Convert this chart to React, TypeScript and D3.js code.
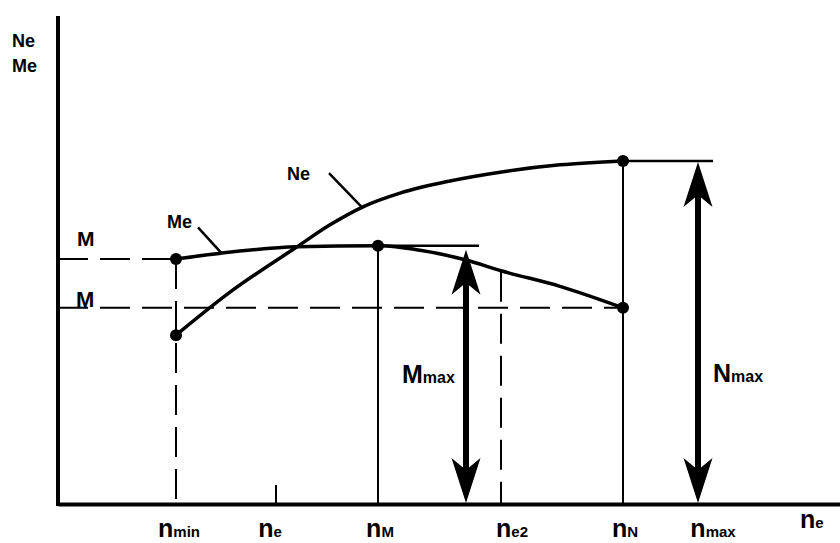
import * as d3 from "d3";
import React, { useRef, useEffect } from "react";

// engine speed (arbitrary rpm-like units) and curve values
const meRpm = [1180, 1630, 2390, 3200, 3620, 4080, 4430, 5020, 5650];
const meTorque = [50.2, 51.4, 52.7, 52.9, 52.0, 50.0, 47.8, 44.6, 40.2];

const neRpm = [1180, 1720, 2390, 2720, 3050, 3420, 3920, 4420, 5020, 5650];
const nePower = [34.6, 43.4, 52.7, 57.2, 60.9, 63.7, 66.2, 68.0, 69.5, 70.3];

const tickRpm = [1180, 2180, 3200, 4430, 5650, 6400];
const tickSub = ["min", "e", "M", "e2", "N", "max"];

const nMin = 1180;
const nE = 2180;
const nM = 3200;
const nE2 = 4430;
const nN = 5650;
const nMax = 6400;
const mArrowRpm = 4080;
const mFlatEnd = 4210;
const nFlatEnd = 6550;
const meAtMin = 50.2;
const meMax = 52.9;
const meAtE2 = 47.6;
const meAtN = 40.2;
const neAtMin = 34.6;
const neMax = 70.3;

const App = () => {
  const ref = useRef<SVGSVGElement | null>(null);

  useEffect(() => {
    if (!ref.current) return;
    const width = 840;
    const height = 543;
    const svg = d3.select(ref.current);
    svg.selectAll("*").remove();
    svg.attr("width", width).attr("height", height);

    const font = "'Liberation Sans', Arial, sans-serif";
    const x = d3.scaleLinear().domain([0, 7820]).range([58, 840]);
    const y = d3.scaleLinear().domain([0, 100]).range([504, 16]);

    const g = svg.append("g");

    // dashed guides
    const dashed = (x1: number, y1: number, x2: number, y2: number) =>
      g
        .append("line")
        .attr("x1", x(x1))
        .attr("y1", y(y1))
        .attr("x2", x(x2))
        .attr("y2", y(y2))
        .attr("stroke", "#000")
        .attr("stroke-width", 2)
        .attr("stroke-dasharray", "30,12");
    const solid = (x1: number, y1: number, x2: number, y2: number, w = 2) =>
      g
        .append("line")
        .attr("x1", x(x1))
        .attr("y1", y(y1))
        .attr("x2", x(x2))
        .attr("y2", y(y2))
        .attr("stroke", "#000")
        .attr("stroke-width", w);

    dashed(0, meAtMin, nMin, meAtMin);
    dashed(0, meAtN, nN, meAtN);
    dashed(nMin, meAtMin, nMin, 0);
    dashed(nE2, meAtE2, nE2, 0);

    solid(nM, meMax, nM, 0);
    solid(nN, neMax, nN, 0);
    solid(nE, 0, nE, 3.9);
    solid(nM, meMax, mFlatEnd, meMax, 2.5);
    solid(nN, neMax, nFlatEnd, neMax, 2.5);

    // curves
    const line = d3
      .line<[number, number]>()
      .x((d) => x(d[0]))
      .y((d) => y(d[1]))
      .curve(d3.curveMonotoneX);

    g.append("path")
      .datum(meRpm.map((r, i) => [r, meTorque[i]] as [number, number]))
      .attr("fill", "none")
      .attr("stroke", "#000")
      .attr("stroke-width", 3.5)
      .attr("d", line);

    g.append("path")
      .datum(neRpm.map((r, i) => [r, nePower[i]] as [number, number]))
      .attr("fill", "none")
      .attr("stroke", "#000")
      .attr("stroke-width", 3.5)
      .attr("d", line);

    // dots
    const dots: [number, number][] = [
      [nMin, meAtMin],
      [nMin, neAtMin],
      [nM, meMax],
      [nN, meAtN],
      [nN, neMax],
    ];
    g.selectAll(".dot")
      .data(dots)
      .enter()
      .append("circle")
      .attr("class", "dot")
      .attr("cx", (d) => x(d[0]))
      .attr("cy", (d) => y(d[1]))
      .attr("r", 6)
      .attr("fill", "#000");

    // double arrows
    const arrow = (rpm: number, top: number) => {
      const ax = x(rpm);
      const y0 = y(top);
      const y1 = y(0);
      const len = 46;
      const half = 14.5;
      const notch = 12;
      g.append("line")
        .attr("x1", ax)
        .attr("x2", ax)
        .attr("y1", y0 + len - notch)
        .attr("y2", y1 - len + notch)
        .attr("stroke", "#000")
        .attr("stroke-width", 6);
      g.append("path")
        .attr(
          "d",
          `M${ax},${y0 + 1} L${ax + half},${y0 + len} L${ax},${y0 + len - notch} L${ax - half},${y0 + len} Z`
        )
        .attr("fill", "#000");
      g.append("path")
        .attr(
          "d",
          `M${ax},${y1 - 1} L${ax + half},${y1 - len} L${ax},${y1 - len + notch} L${ax - half},${y1 - len} Z`
        )
        .attr("fill", "#000");
    };
    arrow(mArrowRpm, meMax - 0.6);
    arrow(nMax, neMax);

    // axes
    const xAxis = svg
      .append("g")
      .attr("transform", `translate(0,${y(0)})`)
      .call(d3.axisBottom(x).tickValues([]).tickSizeOuter(0));
    xAxis.select(".domain").attr("stroke", "#000").attr("stroke-width", 4);

    const yAxis = svg
      .append("g")
      .attr("transform", `translate(${x(0)},0)`)
      .call(d3.axisLeft(y).tickValues([]).tickSizeOuter(0));
    yAxis
      .select(".domain")
      .attr("stroke", "#000")
      .attr("stroke-width", 4)
      .attr("d", `M0,${y(100)}V${y(0) + 2}`);

    // tick labels
    const nudge = [3, -6, 2, 11, 2, 15];
    const tl = svg
      .append("g")
      .attr("font-family", font)
      .attr("font-weight", "bold")
      .attr("text-anchor", "middle");
    tickRpm.forEach((r, i) => {
      const t = tl
        .append("text")
        .attr("x", x(r) + nudge[i])
        .attr("y", 537);
      t.append("tspan").attr("font-size", 25).text("n");
      t.append("tspan").attr("font-size", 15).text(tickSub[i]);
    });

    const text = (
      px: number,
      py: number,
      main: string,
      size: number,
      sub?: string,
      subSize?: number
    ) => {
      const t = svg
        .append("text")
        .attr("x", px)
        .attr("y", py)
        .attr("font-family", font)
        .attr("font-weight", "bold");
      t.append("tspan").attr("font-size", size).text(main);
      if (sub) t.append("tspan").attr("font-size", subSize ?? 15).text(sub);
      return t;
    };

    // axis titles
    text(12, 47, "Ne", 18);
    text(12, 72, "Me", 18);
    text(800, 528, "n", 25, "e", 15);

    // level labels
    text(77, 246, "M", 21);
    text(76, 307, "M", 22);

    // curve labels with leaders
    text(x(1090), y(56.6), "Me", 18);
    solid(1400, 56.7, 1630, 51.5, 2.5);
    text(x(2290), y(66.4), "Ne", 18);
    solid(2710, 67.8, 3050, 60.6, 2.5);

    text(x(3440), 383, "M", 25, "max", 16);
    text(x(6550), 382, "N", 25, "max", 16);
  }, []);

  return (
    <svg
      ref={ref}
      style={{ position: "absolute", left: 0, top: 0, background: "#fff" }}
    />
  );
};

export default App;
